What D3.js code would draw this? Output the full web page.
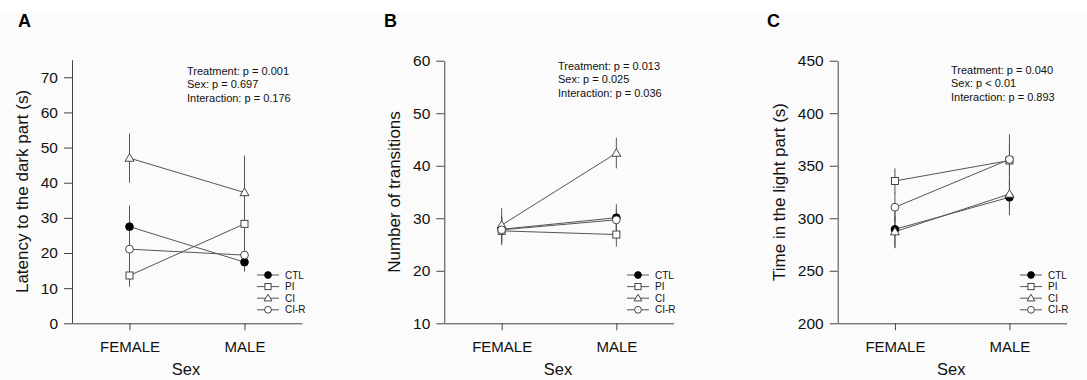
<!DOCTYPE html>
<html><head><meta charset="utf-8">
<script src="https://cdn.jsdelivr.net/npm/d3@7"></script>
<style>body{margin:0;background:#fff}svg{display:block;font-family:"Liberation Sans",Arial,sans-serif}</style>
</head><body><svg id="c" width="1087" height="380"></svg>
<script>
const categories = ["FEMALE", "MALE"];
const seriesNames = ["CTL", "PI", "CI", "CI-R"];
const seriesShapes = ["circleFilled", "square", "triangle", "circle"];

// Panel A: Latency to the dark part (s)
const aCTL = [27.5, 17.4], aCTLerr = [6, 2.7];
const aPI = [13.6, 28.3], aPIerr = [3.2, 5];
const aCI = [47, 37.2], aCIerr = [7, 10.5];
const aCIR = [21.1, 19.4], aCIRerr = [5, 4];
const aTicks = [0, 10, 20, 30, 40, 50, 60, 70];
const aStats = ["Treatment: p = 0.001", "Sex: p = 0.697", "Interaction: p = 0.176"];

// Panel B: Number of transitions
const bCTL = [27.9, 30.1], bCTLerr = [2.5, 2.6];
const bPI = [27.6, 26.9], bPIerr = [2.7, 2.3];
const bCI = [28.7, 42.4], bCIerr = [3.2, 2.9];
const bCIR = [27.8, 29.7], bCIRerr = [2.5, 2];
const bTicks = [10, 20, 30, 40, 50, 60];
const bStats = ["Treatment: p = 0.013", "Sex: p = 0.025", "Interaction: p = 0.036"];

// Panel C: Time in the light part (s)
const cCTL = [289.5, 320], cCTLerr = [18, 17];
const cPI = [335.5, 355], cPIerr = [12, 15];
const cCI = [287.2, 323], cCIerr = [15, 14];
const cCIR = [310.5, 356], cCIRerr = [14, 24];
const cTicks = [200, 250, 300, 350, 400, 450];
const cStats = ["Treatment: p = 0.040", "Sex: p < 0.01", "Interaction: p = 0.893"];

const panels = [
  {letter: "A", ytitle: "Latency to the dark part (s)", domain: [0, 75], ticks: aTicks, stats: aStats,
   means: [aCTL, aPI, aCI, aCIR], errs: [aCTLerr, aPIerr, aCIerr, aCIRerr],
   x0: 72, x1: 302, y0: 323.3, y1: 59.7, letterX: 18, ytitleX: 22, statsX: 187, statsY: 75, legX: 268, legTX: 285},
  {letter: "B", ytitle: "Number of transitions", domain: [10, 60], ticks: bTicks, stats: bStats,
   means: [bCTL, bPI, bCI, bCIR], errs: [bCTLerr, bPIerr, bCIerr, bCIRerr],
   x0: 444.3, x1: 673.7, y0: 323.3, y1: 60.7, letterX: 384, ytitleX: 394, statsX: 558, statsY: 70, legX: 638, legTX: 655},
  {letter: "C", ytitle: "Time in the light part (s)", domain: [200, 450], ticks: cTicks, stats: cStats,
   means: [cCTL, cPI, cCI, cCIR], errs: [cCTLerr, cPIerr, cCIerr, cCIRerr],
   x0: 837.7, x1: 1066.7, y0: 323.3, y1: 60.7, letterX: 767, ytitleX: 779, statsX: 951, statsY: 74, legX: 1031, legTX: 1048}
];

const svg = d3.select("#c");
svg.append("rect").attr("x", 0).attr("y", 12).attr("width", 1087).attr("height", 368).attr("fill", "#fbfbfb");

const lineCol = "#555", axisCol = "#444";

function drawShape(g, shape, cx, cy, s) {
  if (shape === "circleFilled") {
    g.append("circle").attr("cx", cx).attr("cy", cy).attr("r", s).attr("fill", "#000").attr("stroke", "#000").attr("stroke-width", 0.8);
  } else if (shape === "circle") {
    g.append("circle").attr("cx", cx).attr("cy", cy).attr("r", s).attr("fill", "#fff").attr("stroke", "#333").attr("stroke-width", 0.9);
  } else if (shape === "square") {
    g.append("rect").attr("x", cx - s * 0.9).attr("y", cy - s * 0.9).attr("width", s * 1.8).attr("height", s * 1.8)
      .attr("fill", "#fff").attr("stroke", "#333").attr("stroke-width", 0.9);
  } else if (shape === "triangle") {
    const h = s * 1.15;
    g.append("path").attr("d", `M${cx},${cy - h}L${cx + h},${cy + h * 0.7}L${cx - h},${cy + h * 0.7}Z`)
      .attr("fill", "#fff").attr("stroke", "#333").attr("stroke-width", 0.9);
  }
}

panels.forEach(p => {
  const g = svg.append("g");
  const x = d3.scalePoint().domain(categories).range([p.x0, p.x1]).padding(0.5);
  const y = d3.scaleLinear().domain(p.domain).range([p.y0, p.y1]);

  // y axis
  const yAx = g.append("g").attr("transform", `translate(${p.x0},0)`)
    .call(d3.axisLeft(y).tickValues(p.ticks).tickSize(8).tickPadding(6).tickSizeOuter(0));
  yAx.select(".domain").attr("stroke", axisCol);
  yAx.selectAll(".tick line").attr("stroke", axisCol);
  yAx.selectAll("text").attr("font-size", 15.5).attr("fill", "#111").attr("font-family", "Liberation Sans, Arial, sans-serif");

  // x axis
  const xAx = g.append("g").attr("transform", `translate(0,${p.y0})`)
    .call(d3.axisBottom(x).tickSize(7).tickPadding(11).tickSizeOuter(0));
  xAx.select(".domain").attr("stroke", axisCol);
  xAx.selectAll(".tick line").attr("stroke", axisCol);
  xAx.selectAll("text").attr("font-size", 15).attr("fill", "#111").attr("font-family", "Liberation Sans, Arial, sans-serif");

  // titles
  g.append("text").attr("x", (p.x0 + p.x1) / 2 - 1).attr("y", 375).attr("text-anchor", "middle")
    .attr("font-size", 16.5).attr("fill", "#111").text("Sex");
  g.append("text").attr("transform", `translate(${p.ytitleX + 6},${(p.y0 + p.y1) / 2}) rotate(-90)`)
    .attr("text-anchor", "middle").attr("font-size", 17).attr("fill", "#111").text(p.ytitle);
  g.append("text").attr("x", p.letterX).attr("y", 27).attr("font-size", 18).attr("font-weight", "bold")
    .attr("fill", "#000").text(p.letter);

  // stats
  p.stats.forEach((s, i) => {
    g.append("text").attr("x", p.statsX).attr("y", p.statsY + i * 13.3).attr("font-size", 11)
      .attr("fill", "#111").text(s);
  });

  // error bars
  p.means.forEach((m, si) => {
    m.forEach((v, ci) => {
      const e = p.errs[si][ci];
      g.append("line").attr("x1", x(categories[ci])).attr("x2", x(categories[ci]))
        .attr("y1", y(v - e)).attr("y2", y(v + e)).attr("stroke", lineCol).attr("stroke-width", 1);
    });
  });
  // lines
  const line = d3.line().x((d, i) => x(categories[i])).y(d => y(d));
  p.means.forEach((m, si) => {
    g.append("path").attr("d", line(m)).attr("fill", "none").attr("stroke", lineCol).attr("stroke-width", 1);
  });
  // markers
  p.means.forEach((m, si) => {
    m.forEach((v, ci) => drawShape(g, seriesShapes[si], x(categories[ci]), y(v), 3.9));
  });

  // legend
  seriesNames.forEach((name, i) => {
    const ly = 275 + i * 11.6;
    g.append("line").attr("x1", p.legX - 11).attr("x2", p.legX + 11).attr("y1", ly).attr("y2", ly)
      .attr("stroke", lineCol).attr("stroke-width", 1);
    drawShape(g, seriesShapes[i], p.legX, ly, 3.4);
    g.append("text").attr("x", p.legTX).attr("y", ly + 3.6).attr("font-size", 10).attr("fill", "#111").text(name);
  });
});
</script></body></html>
